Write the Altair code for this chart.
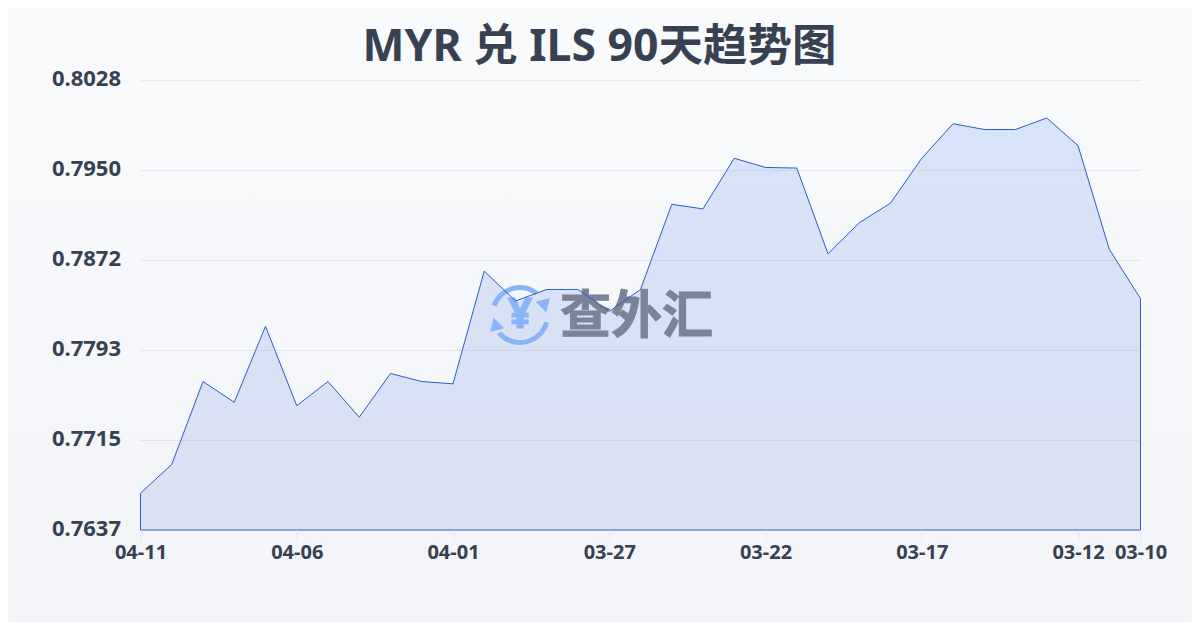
import altair as alt
import pandas as pd

dates = ["04-11","04-10","04-09","04-08","04-07","04-06","04-05","04-04","04-03","04-02","04-01",
         "03-31","03-30","03-29","03-28","03-27","03-26","03-25","03-24","03-23","03-22","03-21",
         "03-20","03-19","03-18","03-17","03-16","03-15","03-14","03-13","03-12","03-11","03-10"]
rates = [0.7669,0.7694,0.7766,0.7748,0.7814,0.7745,0.7766,0.7735,0.7773,0.7766,0.7764,
         0.7862,0.7836,0.7846,0.7846,0.7827,0.7846,0.7920,0.7916,0.7960,0.7952,0.79515,
         0.7877,0.7904,0.7921,0.7960,0.7990,0.7985,0.7985,0.7995,0.7971,0.7881,0.7838]
x_ticks = ["04-11","04-06","04-01","03-27","03-22","03-17","03-12","03-10"]
y_ticks = [0.7637,0.77152,0.77934,0.78716,0.79498,0.8028]
y_min, y_max = 0.7637, 0.8028
title_text = "MYR 兑 ILS 90天趋势图"

FONT = "Noto Sans, Noto Sans CJK SC"
INK = "#374151"
LINE = "#2b5ec6"
W, H = 1000, 450
PL, PT = 132.5, 72

df = pd.DataFrame({"date": dates, "rate": rates})
df["base"] = y_min

def X(px): return alt.value(px - 140.5)
def Y(py): return alt.value(py - 80)

bg = alt.Chart().mark_rect(
    color=alt.Gradient(gradient="linear", x1=0, y1=0, x2=0, y2=1,
                       stops=[alt.GradientStop(color="#f8fafc", offset=0),
                              alt.GradientStop(color="#f2f4f7", offset=1)])
).encode(x=X(0), x2=X(1200), y=Y(0), y2=Y(630))

x_enc = alt.X("date:N", sort=None, title=None,
              scale=alt.Scale(type="point", padding=0),
              axis=alt.Axis(values=x_ticks, labelAngle=0, labelFont=FONT, labelFontSize=20,
                            labelFontWeight="bold", labelColor=INK, labelPadding=2,
                            labelOverlap=False, labelFlush=False, domain=False,
                            tickColor="#e2e8f0", tickSize=10, grid=False, zindex=1))
y_enc = alt.Y("rate:Q", title=None,
              scale=alt.Scale(domain=[y_min, y_max], nice=False, zero=False),
              axis=alt.Axis(values=y_ticks, format=".4f", labelFont=FONT, labelFontSize=22,
                            labelFontWeight="bold", labelColor=INK, labelPadding=20,
                            labelBaseline="middle", labelOffset=-2, labelOverlap=False,
                            domain=False, ticks=False, grid=True, gridColor="#94a3b8",
                            gridOpacity=0.2, zindex=1))

area_fill = alt.Chart(df).mark_area(
    color=alt.Gradient(gradient="linear", x1=0, y1=0, x2=0, y2=1,
                       stops=[alt.GradientStop(color="#d7e3f8", offset=0),
                              alt.GradientStop(color="#dae1f2", offset=1)])
).encode(x=x_enc, y=y_enc, y2="base:Q")

outline = alt.Chart(df).mark_area(
    fillOpacity=0, stroke=LINE, strokeWidth=1
).encode(x=x_enc, y=y_enc, y2="base:Q")

arc_color = "#8ab4f8"
arc1 = alt.Chart().mark_arc(color=arc_color, innerRadius=25, outerRadius=30,
                            theta=5.06, theta2=6.94).encode(x=X(520), y=Y(315))
arc2 = alt.Chart().mark_arc(color=arc_color, innerRadius=25, outerRadius=30,
                            theta=1.83, theta2=4.01).encode(x=X(520), y=Y(315))
head1 = alt.Chart().mark_point(shape="triangle", filled=True, color=arc_color, opacity=1,
                               size=220, angle=165).encode(x=X(544), y=Y(304))
head2 = alt.Chart().mark_point(shape="triangle", filled=True, color=arc_color, opacity=1,
                               size=220, angle=345).encode(x=X(496), y=Y(326))
yen = alt.Chart().mark_text(text="¥", font=FONT, fontSize=42, fontWeight="bold", stroke=arc_color,
                            strokeWidth=1.2, color=arc_color, align="center", baseline="middle"
                            ).encode(x=X(520), y=Y(315))
brand = alt.Chart().mark_text(text="查外汇", font="Noto Sans CJK SC", fontSize=51, fontWeight="bold",
                              stroke="#7a8499", strokeWidth=1, color="#7a8499", align="left",
                              baseline="middle").encode(x=X(560), y=Y(318))

chart = alt.layer(bg, area_fill, arc1, arc2, head1, head2, yen, brand, outline).properties(
    width=W, height=H,
    padding={"left": PL, "top": PT, "right": 1184 - PL - W, "bottom": 614 - PT - H},
    autosize=alt.AutoSizeParams(type="none"),
    background="#f5f7fa",
    title=alt.TitleParams(title_text, font=FONT, fontSize=44.5, fontWeight="bold", color=INK,
                          anchor="middle", frame="group", dx=-41, dy=70, offset=0),
).configure_view(stroke=None)

chart.save("out.html", embed_options={"renderer": "svg", "actions": False})
